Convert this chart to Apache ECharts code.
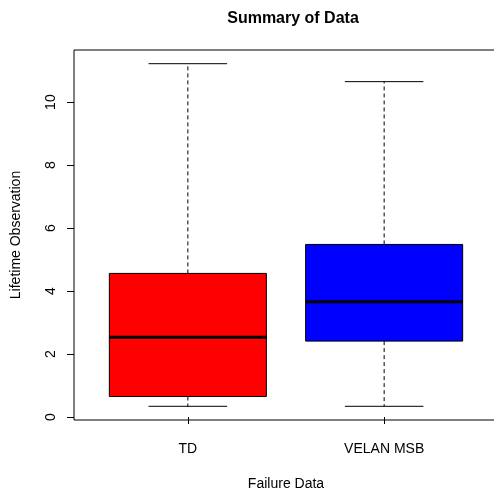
<!DOCTYPE html>
<html>
<head>
<meta charset="utf-8">
<script src="https://cdn.jsdelivr.net/npm/echarts@6/dist/echarts.min.js"></script>
<style>
    html, body { margin: 0; padding: 0; background: #fff; }
    #main { width: 494px; height: 494px; }
</style>
</head>
<body>
<div id="main"></div>
<script>
    // box stats: [min, Q1, median, Q3, max]
    var categories = ['TD', 'VELAN MSB'];
    var boxColors = ['#FF0000', '#0000FF'];
    var tdStats = [0.34, 0.65, 2.53, 4.56, 11.22];
    var velanStats = [0.34, 2.41, 3.66, 5.48, 10.65];
    var yTicks = [0, 2, 4, 6, 8, 10];

    var stats = [tdStats, velanStats];
    var seriesData = stats.map(function (s, i) {
        return [i + 1].concat(s);
    });

    var font = 'Liberation Sans, Arial, sans-serif';
    var chart = echarts.init(document.getElementById('main'));

    var option = {
        animation: false,
        backgroundColor: '#fff',
        title: {
            text: 'Summary of Data',
            left: 288,
            textAlign: 'center',
            top: 6,
            textStyle: { fontFamily: font, fontSize: 16, fontWeight: 'bold', color: '#000' }
        },
        grid: {
            left: 74,
            right: -4,
            top: 50,
            bottom: 74,
            outerBoundsMode: 'none',
            containLabel: false,
            show: true,
            borderColor: '#000',
            borderWidth: 1,
            backgroundColor: 'transparent'
        },
        xAxis: {
            type: 'value',
            min: 0.42,
            max: 2.58,
            name: 'Failure Data',
            nameLocation: 'middle',
            nameGap: 57,
            nameTextStyle: { fontFamily: font, fontSize: 14, color: '#000' },
            axisLine: { show: false },
            splitLine: { show: false },
            axisTick: {
                show: true,
                length: 7,
                lineStyle: { color: '#000' },
                customValues: [1, 2]
            },
            axisLabel: {
                fontFamily: font,
                fontSize: 14,
                color: '#000',
                margin: 22,
                customValues: [1, 2],
                formatter: function (v) { return categories[Math.round(v) - 1]; }
            }
        },
        yAxis: {
            type: 'value',
            min: -0.095,
            max: 11.655,
            name: 'Lifetime Observation',
            nameLocation: 'middle',
            nameGap: 51,
            nameRotate: 90,
            nameTextStyle: { fontFamily: font, fontSize: 14, color: '#000' },
            axisLine: { show: false },
            splitLine: { show: false },
            axisTick: {
                show: true,
                length: 7,
                lineStyle: { color: '#000' },
                customValues: yTicks
            },
            axisLabel: {
                fontFamily: font,
                fontSize: 14,
                color: '#000',
                rotate: 90,
                margin: 16,
                customValues: yTicks
            }
        },
        series: [{
            type: 'custom',
            data: seriesData,
            encode: { x: 0, y: [1, 2, 3, 4, 5] },
            renderItem: function (params, api) {
                var x = api.value(0);
                var mn = api.value(1), q1 = api.value(2), md = api.value(3),
                    q3 = api.value(4), mx = api.value(5);
                var half = 0.4, cap = 0.2;
                var pMin = api.coord([x, mn]), pMax = api.coord([x, mx]);
                var pQ1 = api.coord([x, q1]), pQ3 = api.coord([x, q3]);
                var bl = api.coord([x - half, q1]), tr = api.coord([x + half, q3]);
                var mL = api.coord([x - half, md]), mR = api.coord([x + half, md]);
                var cL = api.coord([x - cap, mx]), cR = api.coord([x + cap, mx]);
                var dL = api.coord([x - cap, mn]), dR = api.coord([x + cap, mn]);
                var dash = { stroke: '#000', lineWidth: 1, lineDash: [4, 3] };
                var solid = { stroke: '#000', lineWidth: 1 };
                return {
                    type: 'group',
                    children: [
                        { type: 'line', shape: { x1: pQ3[0], y1: pQ3[1], x2: pMax[0], y2: pMax[1] }, style: dash },
                        { type: 'line', shape: { x1: pQ1[0], y1: pQ1[1], x2: pMin[0], y2: pMin[1] }, style: dash },
                        { type: 'line', shape: { x1: cL[0], y1: cL[1], x2: cR[0], y2: cR[1] }, style: solid },
                        { type: 'line', shape: { x1: dL[0], y1: dL[1], x2: dR[0], y2: dR[1] }, style: solid },
                        {
                            type: 'rect',
                            shape: { x: bl[0], y: tr[1], width: tr[0] - bl[0], height: bl[1] - tr[1] },
                            style: { fill: boxColors[params.dataIndex], stroke: '#000', lineWidth: 1 }
                        },
                        { type: 'line', shape: { x1: mL[0], y1: mL[1], x2: mR[0], y2: mR[1] }, style: { stroke: '#000', lineWidth: 3 } }
                    ]
                };
            }
        }]
    };

    chart.setOption(option);
</script>
</body>
</html>
